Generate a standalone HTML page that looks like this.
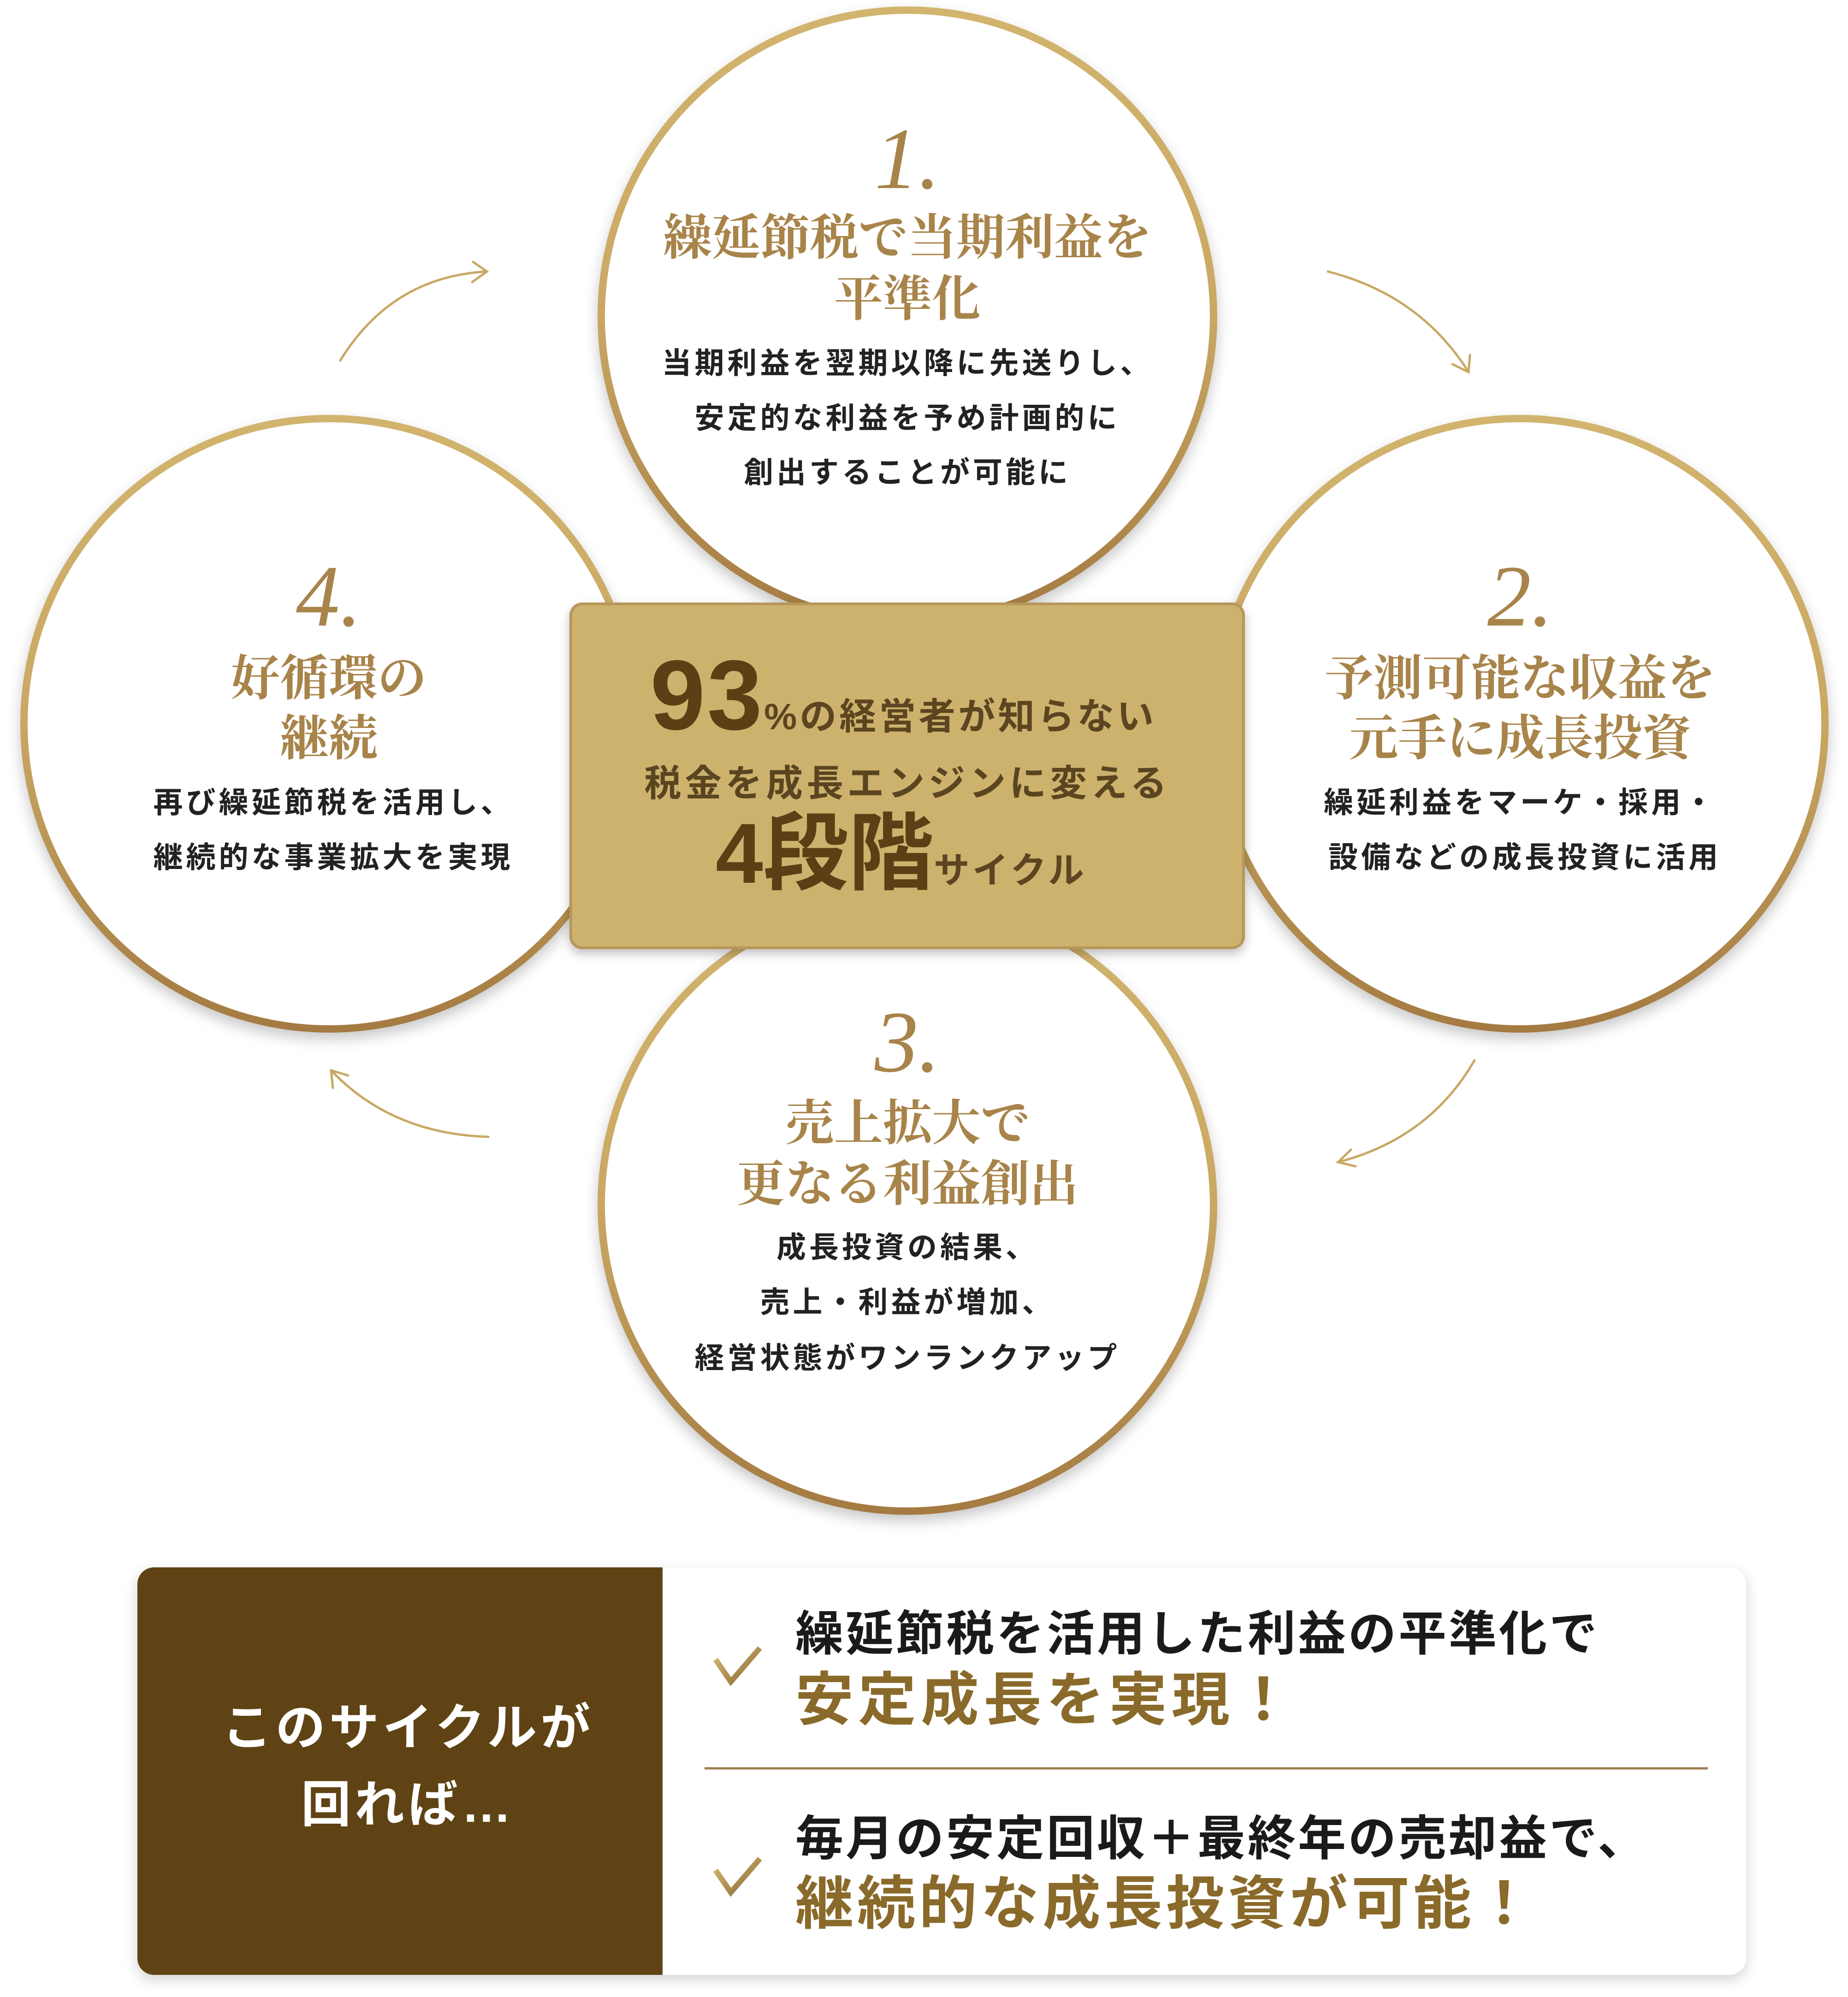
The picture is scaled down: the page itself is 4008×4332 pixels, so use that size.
<!DOCTYPE html>
<html><head><meta charset="utf-8"><style>
html,body{margin:0;padding:0}
body{width:4008px;height:4332px;position:relative;background:#fff;overflow:hidden;font-family:"Liberation Sans","Noto Sans CJK JP",sans-serif}
.c{position:absolute;border-radius:50%;box-sizing:border-box;background:#fff;
 border:16px solid transparent;
 background:linear-gradient(#fff,#fff) padding-box,linear-gradient(180deg,#d2b46e,#c9a862 50%,#a47a42) border-box;
 box-shadow:0 14px 30px rgba(0,0,0,.22)}
.t{position:absolute;white-space:nowrap;transform:translate(-50%,-50%);text-align:center}
.num{font-family:"Liberation Serif",serif;font-style:italic;font-size:190px;color:#a8844a;line-height:1}
.ti{font-family:"Liberation Serif","Noto Serif CJK JP",serif;font-weight:bold;font-size:106px;color:#a8844a;line-height:1}
.bd{font-weight:bold;font-size:64px;letter-spacing:7px;color:#222;line-height:1}
</style></head><body>
<svg width="4008" height="4332" style="position:absolute;left:0;top:0">
<g fill="none" stroke="#c9a865" stroke-width="5" stroke-linecap="round">
<path d="M738 782 Q850 600 1056 589"/><path d="M1026 568 L1056 589 L1024 612"/>
<path d="M2880 589 Q3080 640 3185 807"/><path d="M3150 790 L3185 807 L3188 770"/>
<path d="M3198 2300 Q3100 2470 2902 2521"/><path d="M2930 2494 L2902 2521 L2940 2530"/>
<path d="M1059 2466 Q850 2460 718 2322"/><path d="M722 2360 L718 2322 L755 2333"/>
</g></svg>
<div class="c" style="left:1296px;top:14px;width:1344px;height:1344px"></div>
<div class="c" style="left:44px;top:900px;width:1340px;height:1340px"></div>
<div class="c" style="left:2626px;top:900px;width:1340px;height:1340px"></div>
<div class="c" style="left:1296px;top:1942px;width:1344px;height:1344px"></div>

<div class="t num" style="left:1968px;top:345px">1.</div>
<div class="t ti" style="left:1968px;top:517px">繰延節税で当期利益を</div>
<div class="t ti" style="left:1968px;top:650px">平準化</div>
<div class="t bd" style="left:1968px;top:788px">当期利益を翌期以降に先送りし、</div>
<div class="t bd" style="left:1968px;top:907px">安定的な利益を予め計画的に</div>
<div class="t bd" style="left:1968px;top:1025px">創出することが可能に</div>

<div class="t num" style="left:713px;top:1294px">4.</div>
<div class="t ti" style="left:713px;top:1473px">好循環の</div>
<div class="t ti" style="left:713px;top:1603px">継続</div>
<div class="t bd" style="left:723px;top:1741px">再び繰延節税を活用し、</div>
<div class="t bd" style="left:723px;top:1860px">継続的な事業拡大を実現</div>

<div class="t num" style="left:3297px;top:1294px">2.</div>
<div class="t ti" style="left:3297px;top:1473px">予測可能な収益を</div>
<div class="t ti" style="left:3297px;top:1603px">元手に成長投資</div>
<div class="t bd" style="left:3297px;top:1741px">繰延利益をマーケ・採用・</div>
<div class="t bd" style="left:3307px;top:1860px">設備などの成長投資に活用</div>

<div class="t num" style="left:1968px;top:2261px">3.</div>
<div class="t ti" style="left:1968px;top:2438px">売上拡大で</div>
<div class="t ti" style="left:1968px;top:2570px">更なる利益創出</div>
<div class="t bd" style="left:1968px;top:2706px">成長投資の結果、</div>
<div class="t bd" style="left:1968px;top:2825px">売上・利益が増加、</div>
<div class="t bd" style="left:1968px;top:2946px">経営状態がワンランクアップ</div>

<div style="position:absolute;left:1235px;top:1307px;width:1465px;height:752px;box-sizing:border-box;background:#cdb26e;border:6px solid #b8975a;border-radius:28px;box-shadow:0 10px 22px rgba(0,0,0,.25)"></div>
<div style="position:absolute;left:1410px;top:1400px;white-space:nowrap;color:#5c3f14;font-weight:bold;line-height:1">
<span style="font-size:215px;letter-spacing:4px">93</span><span style="font-size:80px;letter-spacing:6px;color:#5c4520">%の経営者が知らない</span></div>
<div class="t" style="left:1968px;top:1700px;font-weight:bold;font-size:80px;letter-spacing:8px;color:#5a4520;line-height:1">税金を成長エンジンに変える</div>
<div style="position:absolute;left:1552px;top:1760px;white-space:nowrap;color:#5c3f14;font-weight:bold;line-height:1">
<span style="font-size:185px">4段階</span><span style="font-size:78px;letter-spacing:6px;color:#5c4520">サイクル</span></div>

<div style="position:absolute;left:298px;top:3400px;width:3489px;height:884px;background:#fff;border-radius:36px;box-shadow:0 10px 30px rgba(0,0,0,.18)"></div>
<div style="position:absolute;left:298px;top:3400px;width:1139px;height:884px;background:#5f4314;border-radius:36px 0 0 36px"></div>
<div class="t" style="left:885px;top:3748px;color:#fff;font-weight:bold;font-size:108px;letter-spacing:8px;line-height:1">このサイクルが</div>
<div class="t" style="left:885px;top:3915px;color:#fff;font-weight:bold;font-size:108px;letter-spacing:8px;line-height:1">回れば…</div>
<svg width="4008" height="4332" style="position:absolute;left:0;top:0">
<defs><linearGradient id="g" x1="0" y1="0" x2="1" y2="1"><stop offset="0" stop-color="#d8bc7a"/><stop offset="1" stop-color="#8a6a30"/></linearGradient></defs>
<path d="M1552 3600 L1585 3648 L1648 3575" fill="none" stroke="url(#g)" stroke-width="12"/>
<path d="M1552 4057 L1585 4105 L1648 4032" fill="none" stroke="url(#g)" stroke-width="12"/>
<line x1="1528" y1="3836" x2="3704" y2="3836" stroke="#a08050" stroke-width="5"/>
</svg>
<div style="position:absolute;left:1725px;top:3493px;white-space:nowrap;font-weight:bold;font-size:104px;letter-spacing:5px;color:#1a1a1a;line-height:1">繰延節税を活用した利益の平準化で</div>
<div style="position:absolute;left:1725px;top:3625px;white-space:nowrap;font-weight:bold;font-size:126px;letter-spacing:10px;color:#8a6a2a;line-height:1">安定成長を実現！</div>
<div style="position:absolute;left:1725px;top:3937px;white-space:nowrap;font-weight:bold;font-size:104px;letter-spacing:5px;color:#1a1a1a;line-height:1">毎月の安定回収＋最終年の売却益で、</div>
<div style="position:absolute;left:1725px;top:4067px;white-space:nowrap;font-weight:bold;font-size:126px;letter-spacing:8px;color:#8a6a2a;line-height:1">継続的な成長投資が可能！</div>
</body></html>
